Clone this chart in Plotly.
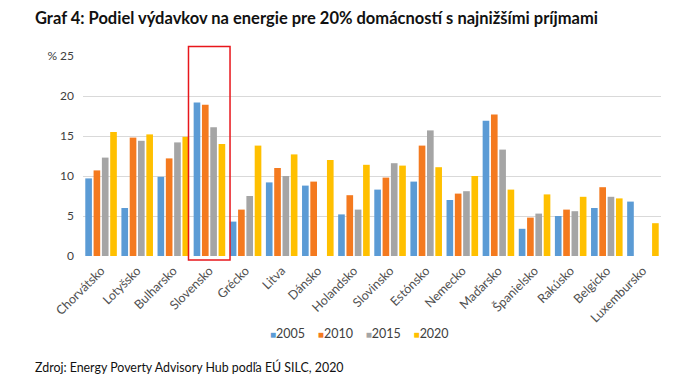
import plotly.graph_objects as go

countries = ["Chorvátsko", "Lotyšsko", "Bulharsko", "Slovensko", "Grécko", "Litva", "Dánsko",
             "Holandsko", "Slovinsko", "Estónsko", "Nemecko", "Maďarsko", "Španielsko",
             "Rakúsko", "Belgicko", "Luxembursko"]
v2005 = [9.7, 6.0, 9.9, 19.2, 4.3, 9.2, 8.8, 5.2, 8.3, 9.3, 7.0, 16.9, 3.4, 5.0, 6.0, 6.8]
v2010 = [10.7, 14.8, 12.2, 18.9, 5.8, 11.0, 9.3, 7.6, 9.8, 13.8, 7.8, 17.7, 4.8, 5.8, 8.6, None]
v2015 = [12.3, 14.4, 14.2, 16.1, 7.5, 10.0, None, 5.8, 11.6, 15.7, 8.1, 13.3, 5.3, 5.6, 7.4, None]
v2020 = [15.5, 15.2, 14.9, 14.0, 13.8, 12.7, 12.0, 11.4, 11.3, 11.1, 10.0, 8.3, 7.7, 7.4, 7.2, 4.1]
series = [("2005", v2005, "#5B9BD5"), ("2010", v2010, "#F47A1F"),
          ("2015", v2015, "#A5A5A5"), ("2020", v2020, "#FFC000")]
ytick_vals = [0, 5, 10, 15, 20, 25]
ytick_text = ["0", "5", "10", "15", "20", "% 25"]
highlight = "Slovensko"

fig = go.Figure()
for name, vals, col in series:
    fig.add_trace(go.Bar(x=countries, y=vals, name=name, marker_color=col,
                         marker_line_width=0))

hi = countries.index(highlight)
fig.add_shape(type="rect", xref="x", yref="paper", x0=hi - 0.58, x1=hi + 0.57,
              y0=-0.02, y1=1.047, line=dict(color="#E8161B", width=1.5))

legend_text = "    ".join(
    f"<span style='color:{col};font-size:10px'>■</span>{name}" for name, _, col in series)

fig.update_layout(
    width=680, height=390,
    margin=dict(l=83, r=19, t=56, b=134),
    paper_bgcolor="white", plot_bgcolor="white",
    font=dict(family="Lato, sans-serif", color="#404040"),
    barmode="group", bargap=0.08, bargroupgap=0.2,
    showlegend=False,
    annotations=[
        dict(text="<b>Graf 4: Podiel výdavkov na energie pre 20% domácností s najnižšími príjmami</b>",
             xref="paper", yref="paper", x=-0.087, y=1.19, xanchor="left", yanchor="middle",
             showarrow=False, font=dict(size=16.5, color="#111111")),
        dict(text="Zdroj: Energy Poverty Advisory Hub podľa EÚ SILC, 2020",
             xref="paper", yref="paper", x=-0.087, y=-0.555, xanchor="left", yanchor="middle",
             showarrow=False, font=dict(size=12.4, color="#111111")),
        dict(text=legend_text, xref="paper", yref="paper", x=0.479, y=-0.385,
             xanchor="center", yanchor="middle", showarrow=False,
             font=dict(size=12.5, color="#404040")),
    ],
)
fig.update_xaxes(tickangle=-45, tickfont=dict(size=12.5, color="#505050"), showline=False,
                 ticks="", showgrid=False, automargin=False, ticklabelstandoff=4)
fig.update_yaxes(range=[0, 25], tickvals=ytick_vals, ticktext=ytick_text,
                 tickfont=dict(size=12, color="#404040"), gridcolor="#D9D9D9",
                 gridwidth=1, zeroline=False, showline=False, ticks="", ticklabelstandoff=8,
                 automargin=False)

fig.write_html("out.html", config={"displayModeBar": False},
               post_script="document.body.style.margin='0';")
